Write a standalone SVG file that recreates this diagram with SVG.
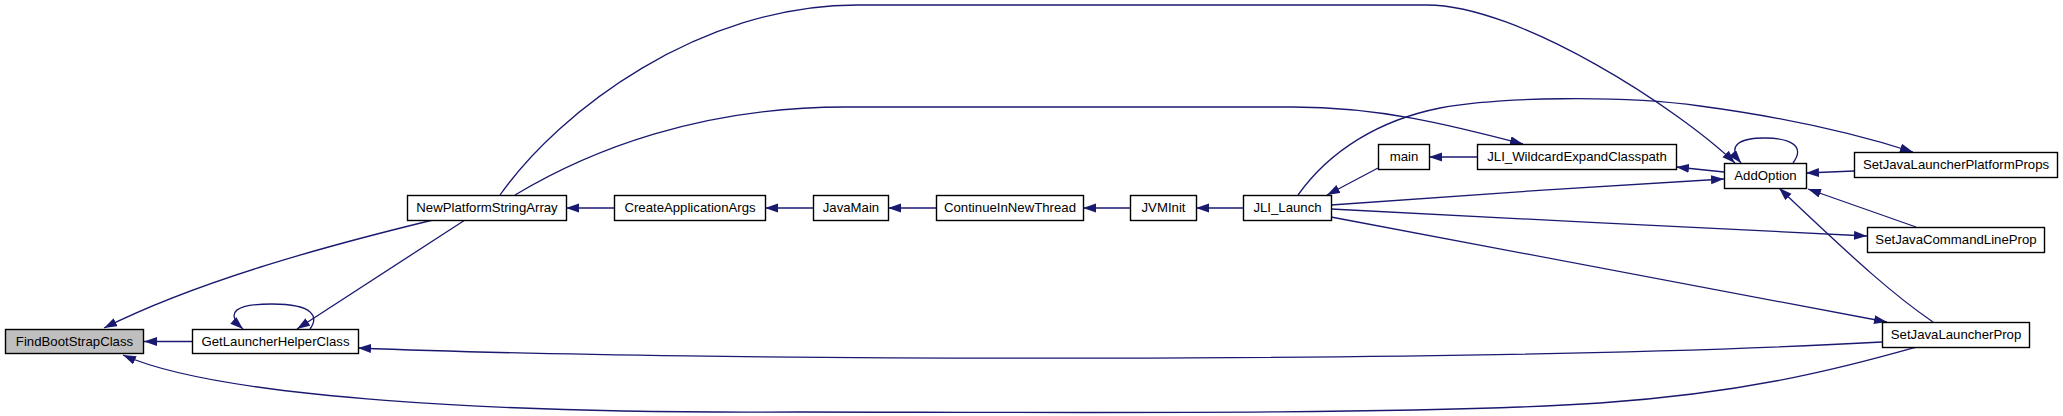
<svg xmlns="http://www.w3.org/2000/svg" width="2063" height="416" viewBox="0 0 2063 416">
<style>
.node rect{fill:#fff;stroke:#000;stroke-width:1.4}
.node.root rect{fill:#bfbfbf}
.node text{font-family:"Liberation Sans",Arial,sans-serif;font-size:13.2px;fill:#000;text-anchor:middle}
.edges path{fill:none;stroke:#191970;stroke-width:1.3;marker-end:url(#arr)}
</style>
<defs>
<marker id="arr" markerUnits="userSpaceOnUse" markerWidth="14" markerHeight="10" refX="13" refY="4.5" orient="auto">
<path d="M0,0 L13,4.5 L0,9 z" fill="#191970"/>
</marker>
</defs>
<rect width="2063" height="416" fill="#fff"/>
<g class="edges">
<path d="M192,341.5 L144,341.5"/>
<path d="M433,220 C330,245 200,280 104,328"/>
<path d="M1917,347 C1860,363 1760,392 1600,403 C1400,416 1000,412 800,412 C500,414 220,398 123,355"/>
<path d="M310,329 C318,318 316,304 272,304 C236,304 224,312 243,329"/>
<path d="M465,220 L297,329"/>
<path d="M1882,342 C1500,363 700,362 358,348"/>
<path d="M614,208 L566,208"/>
<path d="M813,208 L765,208"/>
<path d="M936,208 L888,208"/>
<path d="M1130,208 L1083,208"/>
<path d="M1243,208 L1196,208"/>
<path d="M500,195 C560,110 700,5 857,5 L1427,5 C1520,5 1680,110 1735,163"/>
<path d="M515,195 C590,150 700,107 845,107 L1293,107 C1380,107 1450,125 1523,144"/>
<path d="M1477,157 L1429,157"/>
<path d="M1724,172 L1676,167"/>
<path d="M1793,163 C1806,146 1790,138 1765,138 C1740,138 1726,145 1741,163"/>
<path d="M1854,171 L1806,173"/>
<path d="M1916,227 L1808,189"/>
<path d="M1933,322 C1895,296 1860,265 1779,188"/>
<path d="M1378,168 L1327,195"/>
<path d="M1331,205 C1450,196 1600,186 1724,179"/>
<path d="M1331,209 C1500,218 1700,228 1867,236"/>
<path d="M1331,217 L1887,322"/>
<path d="M1298,195 C1330,150 1380,120 1440,108 C1500,97 1620,95 1700,106 C1790,118 1860,135 1913,152"/>
</g>
<g id="FindBootStrapClass" class="node root"><rect x="5.5" y="329.5" width="138" height="24"/><text x="74.5" y="346">FindBootStrapClass</text></g>
<g id="GetLauncherHelperClass" class="node"><rect x="192.5" y="329.5" width="166" height="24"/><text x="275.5" y="346">GetLauncherHelperClass</text></g>
<g id="NewPlatformStringArray" class="node"><rect x="407.5" y="195.5" width="159" height="25"/><text x="487" y="212">NewPlatformStringArray</text></g>
<g id="CreateApplicationArgs" class="node"><rect x="614.5" y="195.5" width="151" height="25"/><text x="690" y="212">CreateApplicationArgs</text></g>
<g id="JavaMain" class="node"><rect x="813.5" y="195.5" width="75" height="25"/><text x="851" y="212">JavaMain</text></g>
<g id="ContinueInNewThread" class="node"><rect x="936.5" y="195.5" width="147" height="25"/><text x="1010" y="212">ContinueInNewThread</text></g>
<g id="JVMInit" class="node"><rect x="1130.5" y="195.5" width="66" height="25"/><text x="1163.5" y="212">JVMInit</text></g>
<g id="JLI_Launch" class="node"><rect x="1243.5" y="195.5" width="88" height="25"/><text x="1287.5" y="212">JLI_Launch</text></g>
<g id="main" class="node"><rect x="1378.5" y="144.5" width="51" height="25"/><text x="1404" y="161">main</text></g>
<g id="JLI_WildcardExpandClasspath" class="node"><rect x="1477.5" y="144.5" width="199" height="25"/><text x="1577" y="161">JLI_WildcardExpandClasspath</text></g>
<g id="AddOption" class="node"><rect x="1724.5" y="163.5" width="82" height="25"/><text x="1765.5" y="180">AddOption</text></g>
<g id="SetJavaLauncherPlatformProps" class="node"><rect x="1854.5" y="152.5" width="203" height="25"/><text x="1956" y="169">SetJavaLauncherPlatformProps</text></g>
<g id="SetJavaCommandLineProp" class="node"><rect x="1867.5" y="227.5" width="177" height="25"/><text x="1956" y="244">SetJavaCommandLineProp</text></g>
<g id="SetJavaLauncherProp" class="node"><rect x="1882.5" y="322.5" width="147" height="25"/><text x="1956" y="339">SetJavaLauncherProp</text></g>
</svg>
